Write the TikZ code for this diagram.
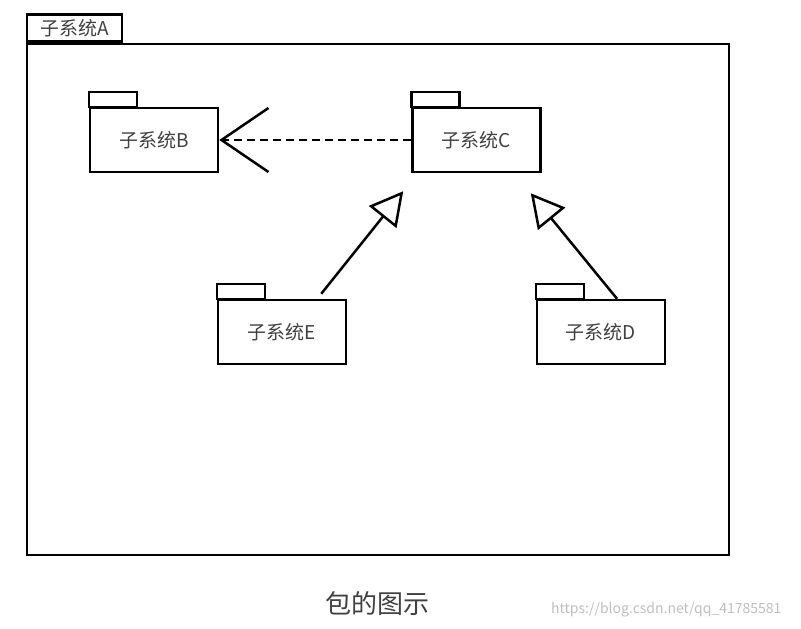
\documentclass[tikz,border=0pt]{standalone}
\usepackage{fontspec}
\setmainfont{Noto Sans CJK SC}
\usetikzlibrary{positioning, calc, arrows.meta}

\begin{document}
\begin{tikzpicture}[x=1pt, y=-1pt, node distance=192pt,
pkg/.style={rectangle, draw=black, line width=2.5pt, minimum width=128pt, minimum height=64pt, inner sep=0pt, text=black!75, font=\fontsize{19}{21}\selectfont},
tab/.style={rectangle, draw=black, line width=2.5pt, inner sep=0pt},
dep/.style={line width=2.5pt, dash pattern=on 8pt off 5pt, -{Straight Barb[length=47pt, width=64pt, line width=2.5pt]}},
gen/.style={line width=2.5pt, -{Triangle[open, length=33pt, width=35pt, line width=2.5pt]}}]
\useasboundingbox (0,0) rectangle (801,629);
% outer package
\node (frameA) [tab, minimum width=702pt, minimum height=511pt] at (378,299.5) {};
\node (tabA) [tab, minimum width=95pt, minimum height=27pt, anchor=south west, text=black!75, font=\fontsize{19}{21}\selectfont] at (frameA.north west) {子系统A};
% inner packages
\node (B) [pkg] at (154,140) {子系统B};
\node (C) [pkg, right=of B] {子系统C};
\node (E) [pkg] at (282,332) {子系统E};
\node (D) [pkg] at (601,332) {子系统D};
\foreach \p in {B,C,D,E}
  \draw[line width=2.5pt] (\p.north west) rectangle ++(48,-15);
% connectors
\coordinate (eTail) at ($(E.north east)+(-26,-5)$);
\coordinate (eTip) at ($(C.south west)+(-8,18)$);
\coordinate (dTail) at ($(D.north)+(16,0)$);
\coordinate (dTip) at ($(C.south east)+(-11,20)$);
\draw[dep] (C.west) -- (B.east);
\draw[gen] (eTail) -- (eTip);
\draw[gen] (dTail) -- (dTip);
% caption
\node (cap) [text=black!75, font=\fontsize{26}{30}\selectfont] at (377,604) {包的图示};
\node (wm) [anchor=east, text=black!25, font=\fontsize{14}{16}\selectfont] at (785,610) {https://blog.csdn.net/qq\_41785581};
\end{tikzpicture}
\end{document}
